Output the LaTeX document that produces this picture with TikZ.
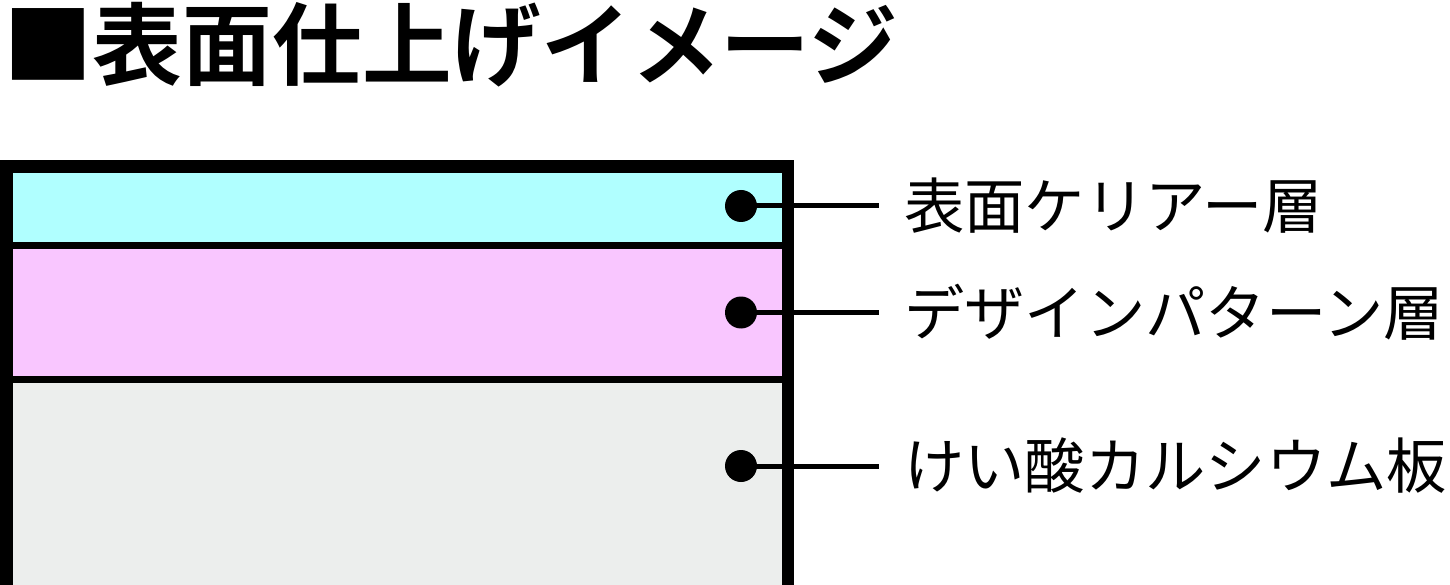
\documentclass[tikz,border=0pt]{standalone}
\usepackage{fontspec}
\newfontfamily\cjk{Noto Sans CJK JP}
\newfontfamily\cjkbold{Noto Sans CJK JP Bold}
\definecolor{layercyan}{HTML}{B0FFFF}
\definecolor{layerpink}{HTML}{F9C6FF}
\definecolor{layergray}{HTML}{ECEEED}
\begin{document}
\begin{tikzpicture}[x=1pt,y=-1pt,
  dot/.style={circle,fill=black,inner sep=0pt,minimum size=32pt},
  leader/.style={line width=5pt},
  label/.style={anchor=west,inner sep=0pt,font=\cjk\fontsize{60.3}{60.3}\selectfont},
  title/.style={anchor=west,inner sep=0pt,font=\cjkbold\fontsize{89.7}{89.7}\selectfont}]
\useasboundingbox (0,0) rectangle (1450,585);
% layered plate
\fill[black] (0,160) rectangle (794,600);
\fill[layercyan] (13,173) rectangle (782,242);
\fill[layerpink] (13,249) rectangle (782,376);
\fill[layergray] (13,383) rectangle (782,600);
% title
\node[title] (t) at (3,45) {■表面仕上げイメージ};
% dots
\node[dot] (d1) at (741,206) {};
\node[dot] (d2) at (741,312.5) {};
\node[dot] (d3) at (741,466) {};
\coordinate (e1) at (879,206);
\coordinate (e2) at (879,312.5);
\coordinate (e3) at (879,466);
\draw[leader] (d1.center) -- (e1);
\draw[leader] (d2.center) -- (e2);
\draw[leader] (d3.center) -- (e3);
\node[label] (l1) at (904,206) {表面ケリアー層};
\node[label] (l2) at (904,312.5) {デザインパターン層};
\node[label] (l3) at (904,466) {けい酸カルシウム板};
\end{tikzpicture}
\end{document}
